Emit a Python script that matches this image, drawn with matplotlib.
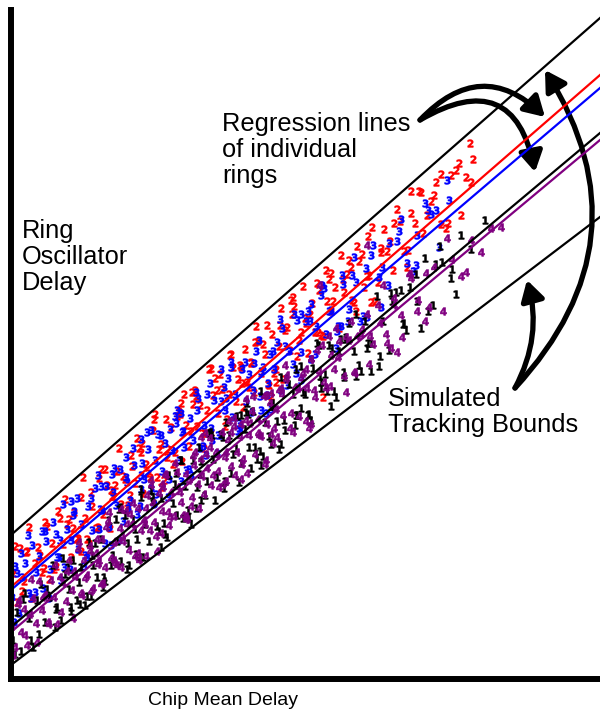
import matplotlib
matplotlib.use("Agg")
import matplotlib.pyplot as plt
from matplotlib.patches import FancyArrowPatch

plt.rcParams['font.family'] = ['Liberation Sans', 'DejaVu Sans']

# line end points at x = 0 and x = 589 (arbitrary delay units)
line_x = [0, 589]
upper_bound = [144, 661]
lower_bound = [14, 462]
red_fit = [92, 604]
blue_fit = [89, 591]
black_fit = [52, 546]
purple_fit = [47, 539]

# ring 2 (red)
red_x = [2, 6, 9, 13, 16, 20, 24, 27, 31, 34, 38, 41, 45, 49, 52, 56, 60, 63, 67, 70,
         74, 78, 81, 85, 88, 92, 96, 99, 103, 106, 110, 114, 117, 121, 124, 128, 132, 135,
         139, 142, 146, 150, 153, 157, 160, 164, 168, 171, 175, 178, 182, 186, 189, 193,
         196, 200, 204, 207, 211, 214, 218, 222, 225, 229, 232, 236, 240, 243, 247, 250,
         254, 258, 261, 265, 268, 272, 276, 279, 283, 286, 290, 294, 297, 301, 304, 308,
         312, 316, 320, 324, 328, 333, 338, 343, 348, 353, 358, 364, 370, 376, 382, 389,
         396, 404, 412, 420, 430, 440, 450, 460, 312, 459, 462, 430,
         4, 11, 18, 29, 36, 43, 54, 58, 65, 72, 80, 87, 94, 101, 108, 112, 119, 126, 130,
         137, 144, 148, 155, 162, 166, 173, 180, 184, 191, 198, 202, 209, 216, 220, 227,
         234, 238, 245, 252, 256, 263, 270, 274, 281, 288, 292, 299, 306, 310, 318, 322,
         330, 336, 341, 346, 351, 356, 361, 367, 373, 379, 386, 393, 400, 408, 416, 425,
         435, 445, 455, 70, 150, 230, 260, 340, 120, 200, 280, 360, 400,
         15, 33, 47, 62, 76, 90, 104, 116, 131, 143, 156, 169, 181, 194, 206, 219, 231,
         244, 257, 269, 282, 295, 307, 320, 332, 345, 357, 370, 383, 397, 410, 423, 437,
         448, 100, 185, 265, 315, 240, 170]
red_y = [106, 77, 131, 98, 128, 81, 116, 132, 107, 157, 100, 136, 113, 161, 135, 155, 122,
         167, 141, 182, 161, 136, 173, 151, 201, 165, 194, 151, 183, 208, 175, 200, 174, 213,
         196, 231, 186, 215, 202, 249, 202, 235, 199, 230, 252, 227, 268, 218, 254, 233, 275,
         253, 274, 231, 269, 247, 301, 266, 290, 253, 285, 312, 278, 314, 272, 297, 317, 287,
         338, 306, 325, 294, 345, 310, 333, 300, 352, 329, 373, 323, 347, 361, 326, 376, 347,
         389, 343, 378, 368, 392, 351, 387, 419, 377, 418, 392, 404, 378, 431, 428, 409, 458,
         412, 456, 446, 478, 455, 504, 464, 497, 282, 536, 520, 505,
         133, 88, 152, 124, 153, 110, 180, 160, 140, 202, 187, 152, 210, 183, 231, 203, 184,
         241, 227, 206, 265, 230, 260, 215, 263, 285, 248, 289, 246, 310, 284, 305, 260, 325,
         300, 330, 292, 353, 335, 354, 306, 371, 349, 365, 339, 393, 365, 396, 344, 400, 378,
         424, 405, 379, 433, 425, 403, 452, 397, 450, 438, 470, 428, 466, 488, 464, 497, 451,
         509, 502, 128, 192, 312, 283, 412, 224, 311, 379, 377, 488,
         127, 111, 168, 151, 140, 210, 194, 171, 236, 260, 222, 265, 287, 246, 289, 324, 296,
         337, 295, 354, 382, 356, 347, 406, 400, 368, 443, 427, 456, 429, 487, 484, 456,
         516, 189, 283, 297, 409, 316, 276]

# ring 3 (blue)
blue_x = [1, 4, 8, 11, 14, 18, 21, 25, 28, 32, 35, 39, 42, 46, 49, 53, 56, 60, 63, 67,
          70, 74, 77, 81, 84, 88, 91, 95, 98, 102, 105, 109, 112, 116, 119, 123, 126, 130,
          133, 137, 140, 144, 147, 151, 154, 158, 161, 165, 168, 172, 175, 179, 182, 186,
          189, 193, 196, 200, 203, 207, 210, 214, 217, 221, 224, 228, 231, 235, 238, 242,
          245, 249, 252, 256, 259, 263, 266, 270, 274, 278, 282, 286, 290, 295, 300, 305,
          310, 315, 320, 326, 332, 338, 345, 352, 360, 368, 377, 386, 396, 406, 417, 428,
          438, 436, 166,
          3, 10, 17, 24, 31, 38, 45, 52, 59, 66, 73, 80, 87, 94, 101, 108, 115, 122, 129,
          136, 143, 150, 157, 164, 171, 178, 185, 192, 199, 206, 213, 220, 227, 234, 241,
          248, 255, 262, 269, 276, 283, 290, 297, 304, 311, 318, 325, 331, 337, 343, 349,
          355, 362, 370, 378, 390, 402, 414, 425, 60, 100, 140, 180, 220, 260, 300, 130,
          170, 210, 250,
          6, 20, 34, 48, 62, 76, 89, 103, 117, 131, 145, 159, 173, 187, 201, 215, 229, 243,
          257, 271, 285, 299, 313, 327, 341, 356, 371, 388, 405, 420, 50, 90, 130, 170, 210,
          250, 290, 330, 115, 195]
blue_y = [82, 113, 66, 102, 116, 86, 134, 107, 123, 91, 138, 110, 157, 122, 139, 112, 150,
          139, 168, 130, 155, 124, 173, 149, 191, 150, 169, 193, 152, 187, 174, 210, 158, 197,
          179, 214, 165, 204, 200, 230, 191, 219, 245, 208, 236, 200, 229, 256, 219, 248, 209,
          261, 239, 269, 231, 254, 285, 251, 279, 244, 278, 269, 301, 262, 285, 256, 310, 278,
          305, 289, 328, 283, 312, 284, 325, 310, 337, 289, 333, 328, 315, 359, 327, 358, 320,
          353, 384, 345, 369, 348, 395, 370, 397, 363, 424, 402, 394, 438, 416, 444, 469, 432,
          479, 499, 269,
          57, 126, 144, 87, 148, 81, 145, 175, 110, 181, 113, 181, 204, 136, 205, 139, 202,
          231, 173, 247, 175, 244, 182, 263, 247, 210, 287, 233, 296, 226, 292, 317, 248, 317,
          267, 339, 266, 328, 360, 294, 365, 299, 368, 325, 394, 368, 331, 404, 358, 422, 358,
          411, 434, 372, 436, 460, 408, 476, 469, 178, 134, 249, 204, 312, 270, 375, 240, 198,
          310, 269,
          106, 81, 148, 122, 164, 122, 170, 211, 171, 216, 185, 250, 232, 281, 239, 281, 249,
          316, 296, 351, 306, 358, 391, 353, 404, 362, 412, 448, 414, 465, 99, 193, 190, 266,
          244, 308, 365, 353, 222, 224]

# ring 1 (black)
black_x = [2, 6, 10, 14, 18, 22, 26, 30, 34, 38, 42, 46, 50, 54, 58, 62, 66, 70, 74, 78,
           82, 86, 90, 94, 98, 102, 106, 110, 114, 118, 122, 126, 130, 134, 138, 142, 146,
           150, 154, 158, 162, 166, 170, 174, 178, 182, 186, 190, 194, 198, 202, 206, 210,
           214, 218, 222, 226, 230, 234, 238, 242, 246, 250, 254, 258, 262, 266, 270, 274,
           278, 282, 286, 290, 294, 298, 302, 306, 310, 314, 318, 323, 328, 333, 338, 343,
           348, 354, 360, 366, 372, 378, 385, 392, 399, 406, 414, 422, 431, 440, 450, 460,
           474,
           4, 12, 20, 28, 36, 44, 52, 60, 68, 76, 84, 92, 100, 108, 116, 124, 132, 140, 148,
           156, 164, 172, 180, 188, 196, 204, 212, 220, 228, 236, 244, 252, 260, 268, 276,
           284, 292, 300, 308, 316, 325, 335, 345, 356, 368, 380, 395, 410, 425, 445, 110,
           150, 190, 230, 270, 310, 350, 170, 250, 330, 80, 200, 240, 290, 360, 130, 260,
           320, 390, 60,
           45, 57, 69, 81, 93, 105, 117, 129, 141, 153, 165, 177, 189, 201, 213, 225, 237,
           249, 261, 273, 285, 297, 309, 321, 333, 345, 357, 369, 381, 393, 405, 417, 429,
           441, 185, 235, 285, 335, 125, 215]
black_y = [39, 67, 28, 86, 61, 32, 79, 95, 57, 82, 114, 72, 59, 105, 90, 119, 79, 112, 74,
           137, 114, 102, 140, 98, 159, 124, 138, 118, 164, 114, 160, 140, 190, 155, 138, 182,
           153, 181, 145, 204, 176, 164, 219, 193, 162, 219, 192, 218, 184, 246, 220, 202, 245,
           198, 244, 225, 263, 216, 250, 232, 268, 220, 288, 257, 243, 276, 258, 302, 249, 295,
           285, 264, 313, 285, 265, 311, 336, 291, 305, 334, 288, 328, 307, 356, 328, 314, 358,
           336, 383, 358, 329, 387, 355, 392, 378, 421, 374, 417, 401, 444, 430, 459,
           25, 80, 39, 45, 90, 52, 121, 68, 97, 83, 136, 92, 114, 170, 110, 150, 122, 189, 148,
           142, 195, 161, 155, 232, 198, 179, 242, 206, 197, 276, 232, 223, 273, 230, 301, 254,
           287, 259, 334, 288, 282, 342, 303, 331, 313, 386, 349, 351, 415, 385, 172, 132, 179,
           264, 235, 297, 308, 219, 214, 340, 83, 247, 211, 271, 308, 182, 235, 273, 389, 72,
           70, 112, 75, 124, 102, 160, 136, 122, 178, 156, 206, 169, 205, 244, 191, 231, 265,
           228, 273, 259, 310, 264, 303, 331, 302, 365, 336, 323, 378, 356, 405, 368, 433,
           410, 171, 267, 264, 340, 125, 257]

# ring 4 (purple)
purple_x = [1, 4, 7, 10, 13, 16, 19, 22, 25, 28, 31, 34, 37, 40, 43, 46, 49, 52, 55, 58,
            61, 64, 67, 70, 73, 76, 79, 82, 85, 88, 91, 94, 97, 100, 103, 106, 109, 112, 115,
            118, 121, 124, 127, 130, 133, 136, 139, 142, 145, 148, 151, 154, 157, 160, 163,
            166, 169, 172, 175, 178, 181, 184, 187, 190, 193, 196, 199, 202, 205, 208, 211,
            214, 217, 220, 223, 226, 229, 232, 235, 238, 241, 244, 247, 250, 253, 256, 259,
            262, 265, 268, 272, 276, 280, 284, 288, 292, 296, 300, 304, 308, 313, 318, 323,
            328, 333, 338, 344, 350, 356, 362, 369, 376, 383, 390, 398, 406, 414, 423, 432,
            441, 450, 460, 470, 480, 490, 356, 309,
            2, 8, 14, 20, 26, 32, 38, 44, 50, 56, 62, 68, 74, 80, 86, 92, 98, 104, 110, 116,
            122, 128, 134, 140, 146, 152, 158, 164, 170, 176, 182, 188, 194, 200, 206, 212,
            218, 224, 230, 236, 242, 248, 254, 260, 266, 274, 282, 290, 298, 306, 315, 325,
            335, 346, 358, 372, 386, 400, 418, 436, 135, 155, 175, 195, 215, 235, 255, 275,
            295, 320, 90, 110, 150, 190, 230, 270, 300, 340, 380, 455,
            63, 71, 79, 87, 95, 103, 111, 119, 127, 135, 143, 151, 159, 167, 175, 183, 191,
            199, 207, 215, 223, 231, 239, 247, 255, 263, 271, 279, 287, 295, 303, 311, 319,
            327, 335, 343, 351, 359, 367, 375, 383, 391, 399, 407, 415, 140, 180, 220, 260,
            300]
purple_y = [53, 32, 75, 47, 70, 34, 65, 81, 56, 98, 69, 84, 57, 99, 82, 55, 102, 96, 78,
            119, 89, 103, 130, 86, 119, 104, 133, 91, 126, 118, 140, 112, 158, 121, 137, 114,
            151, 138, 168, 129, 155, 123, 171, 149, 159, 184, 149, 176, 143, 186, 168, 205,
            167, 187, 163, 207, 187, 164, 205, 199, 182, 227, 195, 220, 185, 211, 232, 204,
            227, 192, 247, 222, 239, 213, 261, 227, 243, 220, 259, 244, 268, 225, 260, 243,
            283, 255, 276, 236, 270, 289, 264, 304, 266, 292, 263, 306, 291, 320, 282, 308,
            297, 343, 310, 338, 303, 339, 306, 345, 365, 335, 356, 336, 381, 364, 405, 368,
            358, 412, 368, 420, 403, 439, 427, 451, 452, 434, 394,
            24, 79, 44, 100, 37, 82, 55, 114, 67, 108, 61, 137, 101, 88, 140, 96, 167, 116,
            112, 155, 176, 119, 155, 199, 128, 192, 154, 216, 177, 160, 223, 171, 246, 194,
            224, 195, 258, 204, 255, 206, 283, 244, 215, 286, 242, 314, 247, 301, 251, 329,
            291, 351, 287, 343, 315, 394, 327, 401, 372, 441, 123, 204, 160, 225, 198, 280,
            219, 300, 258, 324, 95, 170, 146, 242, 200, 291, 255, 358, 331, 407,
            108, 84, 128, 115, 152, 119, 143, 165, 126, 171, 157, 195, 162, 192, 163, 214, 203,
            241, 208, 227, 253, 215, 256, 246, 284, 251, 285, 251, 291, 310, 289, 334, 293,
            322, 342, 307, 350, 343, 374, 345, 374, 342, 405, 379, 406, 194, 173, 247, 245,
            320]

fig = plt.figure(figsize=(6.0, 7.13), dpi=100)
ax = fig.add_axes([11 / 600, 34 / 713, 589 / 600, 669 / 713])
ax.set_xlim(0, 589)
ax.set_ylim(0, 669)

for xs, ys, col, digit in [(red_x, red_y, '#ff0000', '2'),
                           (blue_x, blue_y, '#0000ff', '3'),
                           (black_x, black_y, 'black', '1'),
                           (purple_x, purple_y, '#800080', '4')]:
    ax.scatter(xs, ys, marker=r'$\mathbf{' + digit + '}$', s=30, color=col,
               edgecolors=col, linewidths=0.4)

ax.plot(line_x, upper_bound, color='black', lw=1.6)
ax.plot(line_x, lower_bound, color='black', lw=1.6)
ax.plot(line_x, black_fit, color='black', lw=1.6)
ax.plot(line_x, purple_fit, color='#800080', lw=1.6)
ax.plot(line_x, red_fit, color='#ff0000', lw=1.6)
ax.plot(line_x, blue_fit, color='#0000ff', lw=1.6)

for side in ['top', 'right']:
    ax.spines[side].set_visible(False)
for side in ['left', 'bottom']:
    ax.spines[side].set_linewidth(4.3)
ax.set_xticks([])
ax.set_yticks([])

ax.text(11, 460, 'Ring\nOscillator\nDelay', fontsize=18.3, va='top', ha='left',
        linespacing=1.1)
ax.text(211, 567, 'Regression lines\nof individual\nrings', fontsize=18.3, va='top',
        ha='left', linespacing=1.1)
ax.text(377, 292, 'Simulated\nTracking Bounds', fontsize=18.3, va='top', ha='left',
        linespacing=1.1)
fig.text(148 / 600, 1 - 692 / 713, 'Chip Mean Delay', fontsize=14, va='top', ha='left')

astyle = '-|>,head_length=0.6,head_width=0.35'
arrows = [((409, 559), (534, 562), -0.5),
          ((409, 559), (524, 507), -0.7),
          ((504, 291), (534, 609), 0.38),
          ((504, 291), (516, 399), 0.2)]
for start, end, rad in arrows:
    ax.add_patch(FancyArrowPatch(start, end, arrowstyle=astyle, mutation_scale=20,
                                 connectionstyle=f'arc3,rad={rad}', lw=3.8,
                                 color='black', shrinkA=0, shrinkB=0, clip_on=False))

fig.savefig('out.png', dpi=100)
